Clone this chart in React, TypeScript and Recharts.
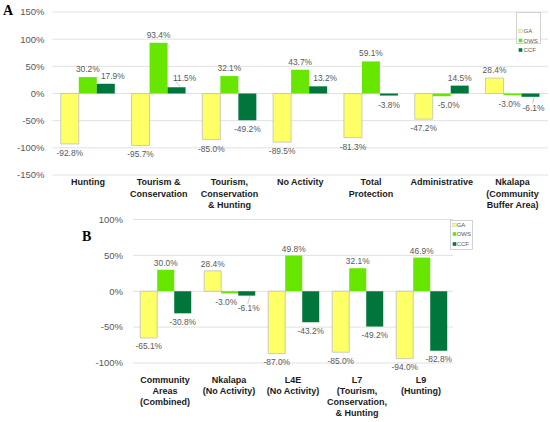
import React from "react";
import { BarChart, Bar, XAxis, YAxis, CartesianGrid, LabelList } from "recharts";

// ---------- Data ----------
const categoriesA = [
  "Hunting",
  "Tourism &\nConservation",
  "Tourism,\nConservation\n& Hunting",
  "No Activity",
  "Total\nProtection",
  "Administrative",
  "Nkalapa\n(Community\nBuffer Area)",
];
const gaA = [-92.8, -95.7, -85.0, -89.5, -81.3, -47.2, 28.4];
const owsA = [30.2, 93.4, 32.1, 43.7, 59.1, -5.0, -3.0];
const ccfA = [17.9, 11.5, -49.2, 13.2, -3.8, 14.5, -6.1];
const ticksA = [-150, -100, -50, 0, 50, 100, 150];

const categoriesB = [
  "Community\nAreas\n(Combined)",
  "Nkalapa\n(No Activity)",
  "L4E\n(No Activity)",
  "L7\n(Tourism,\nConservation,\n& Hunting",
  "L9\n(Hunting)",
];
const gaB = [-65.1, 28.4, -87.0, -85.0, -94.0];
const owsB = [30.0, -3.0, 49.8, 32.1, 46.9];
const ccfB = [-30.8, -6.1, -43.2, -49.2, -82.8];
const ticksB = [-100, -50, 0, 50, 100];

const seriesNames = ["GA", "OWS", "CCF"];
const seriesColors: Record<string, string> = { GA: "#FFFF66", OWS: "#66E600", CCF: "#00763C" };

// label nudges (label layout only, relative to library-computed bar ends)
const nudgesA: Record<string, [number, number]> = {
  "CCF:0": [7, 0],
  "CCF:1": [8, -1],
  "CCF:3": [7, 0],
  "OWS:5": [7, 0],
  "OWS:6": [-3, 0],
  "CCF:6": [3, 2],
};
const leadersA = ["CCF:1", "CCF:6"];
const nudgesB: Record<string, [number, number]> = {
  "OWS:1": [-3.5, 0],
  "CCF:1": [2, 4],
};
const leadersB = ["CCF:1"];

const buildRows = (cats: string[], ga: number[], ows: number[], ccf: number[]) =>
  cats.map((c, i) => ({ cat: c, GA: ga[i], OWS: ows[i], CCF: ccf[i] }));

const dataA = buildRows(categoriesA, gaA, owsA, ccfA);
const dataB = buildRows(categoriesB, gaB, owsB, ccfB);

const FONT = "'Liberation Sans', Arial, sans-serif";

const makeLabel =
  (series: string, nudges: Record<string, [number, number]>, leaders: string[], posOff: number, negOff: number) =>
  (props: any) => {
    const vb = props.viewBox && props.viewBox.width !== undefined ? props.viewBox : props;
    const x = Number(vb.x);
    const y = Number(vb.y);
    const w = Number(vb.width);
    const h = Number(vb.height);
    const value = Number(props.value);
    const index = props.index;
    if (!isFinite(x) || !isFinite(value)) return null;
    const top = Math.min(y, y + h);
    const bottom = Math.max(y, y + h);
    const cx = x + w / 2;
    const key = `${series}:${index}`;
    const [dx, dy] = nudges[key] || [0, 0];
    const pos = value >= 0;
    const lcx = cx + dx;
    const lcy = (pos ? top - posOff : bottom + negOff) + dy;
    const hasLeader = leaders.includes(key);
    return (
      <g>
        {hasLeader &&
          (pos ? (
            <line x1={cx + w * 0.2} y1={top - 0.5} x2={lcx - 9} y2={lcy + 3} stroke="#A6A6A6" strokeWidth={0.6} />
          ) : (
            <line x1={cx + w * 0.2} y1={bottom + 0.5} x2={lcx - 1} y2={lcy - 4.5} stroke="#A6A6A6" strokeWidth={0.6} />
          ))}
        <text x={lcx} y={lcy + 3} textAnchor="middle" fontSize={8.4} fontFamily={FONT} fill="#595959">
          {value.toFixed(1) + "%"}
        </text>
      </g>
    );
  };

const makeTick = (firstOffset: number, lineHeight: number) => (props: any) => {
  const { x, y, payload } = props;
  const lines = String(payload.value).split("\n");
  return (
    <text x={x} y={y + firstOffset} textAnchor="middle" fontSize={9} fontWeight={700} fontFamily={FONT} fill="#1a1a1a">
      {lines.map((l, i) => (
        <tspan key={i} x={x} dy={i === 0 ? 0 : lineHeight}>
          {l}
        </tspan>
      ))}
    </text>
  );
};

const LegendBox = ({
  left,
  top,
  width,
  height,
  rowYs,
  squareX,
  textX,
}: {
  left: number;
  top: number;
  width: number;
  height: number;
  rowYs: number[];
  squareX: number;
  textX: number;
}) => (
  <svg
    style={{ position: "absolute", left, top, overflow: "visible" }}
    width={width}
    height={height}
  >
    <rect x={0.5} y={0.5} width={width - 1} height={height - 1} fill="#ffffff" stroke="#C8C8C8" strokeWidth={0.8} />
    {seriesNames.map((s, i) => (
      <g key={s}>
        <rect x={squareX} y={rowYs[i] - 1.8} width={3.6} height={3.6} fill={seriesColors[s]} stroke={s === "GA" ? "#BFBFBF" : "none"} strokeWidth={0.4} />
        <text x={textX} y={rowYs[i] + 2.1} fontSize={6} fontFamily={FONT} fill="#595959">
          {s}
        </text>
      </g>
    ))}
  </svg>
);

const Panel = ({
  data,
  ticks,
  width,
  height,
  margin,
  yWidth,
  tickMargin,
  xHeight,
  gap,
  nudges,
  leaders,
  posOff,
  negOff,
  tickFirst,
  tickLine,
}: any) => (
  <BarChart width={width} height={height} data={data} margin={margin} barCategoryGap={gap} barGap={0}>
    <CartesianGrid vertical={false} stroke="#D9D9D9" strokeWidth={0.8} />
    <XAxis
      dataKey="cat"
      axisLine={false}
      tickLine={false}
      interval={0}
      height={xHeight}
      tick={makeTick(tickFirst, tickLine)}
    />
    <YAxis
      domain={[ticks[0], ticks[ticks.length - 1]]}
      ticks={ticks}
      width={yWidth}
      axisLine={false}
      tickLine={false}
      tickMargin={tickMargin}
      tickFormatter={(v: number) => `${v}%`}
      tick={{ fontSize: 9.5, fill: "#595959", fontFamily: FONT }}
    />
    {seriesNames.map((s) => (
      <Bar
        key={s}
        dataKey={s}
        fill={seriesColors[s]}
        stroke={s === "GA" ? "#BFBFBF" : "none"}
        strokeWidth={s === "GA" ? 0.8 : 0}
        isAnimationActive={false}
      >
        <LabelList dataKey={s} content={makeLabel(s, nudges, leaders, posOff, negOff)} />
      </Bar>
    ))}
  </BarChart>
);

export default function App() {
  return (
    <div style={{ position: "absolute", left: 0, top: 0, width: 550, height: 422, background: "#ffffff", overflow: "hidden" }}>
      <div style={{ position: "absolute", left: 0, top: 0 }}>
        <Panel
          data={dataA}
          ticks={ticksA}
          width={550}
          height={215}
          margin={{ top: 12, right: 2, left: 0, bottom: 0 }}
          yWidth={52.5}
          tickMargin={2}
          xHeight={40}
          gap="11.7%"
          nudges={nudgesA}
          leaders={leadersA}
          posOff={8}
          negOff={9}
          tickFirst={2}
          tickLine={11.5}
        />
      </div>
      <div style={{ position: "absolute", left: 0, top: 210 }}>
        <Panel
          data={dataB}
          ticks={ticksB}
          width={550}
          height={212}
          margin={{ top: 9.5, right: 97, left: 0, bottom: 0 }}
          yWidth={133}
          tickMargin={4}
          xHeight={59}
          gap="11.3%"
          nudges={nudgesB}
          leaders={leadersB}
          posOff={7}
          negOff={8.5}
          tickFirst={12}
          tickLine={11}
        />
      </div>
      <LegendBox left={516} top={12} width={25} height={32} rowYs={[19, 28.5, 38]} squareX={2.7} textX={7.5} />
      <LegendBox left={450} top={220} width={23} height={30} rowYs={[5, 14, 24]} squareX={2.7} textX={6.7} />
      <div
        style={{
          position: "absolute",
          left: 3,
          top: 3,
          fontFamily: "'Liberation Serif', 'Times New Roman', serif",
          fontWeight: 700,
          fontSize: 14,
          lineHeight: "16px",
          color: "#000",
        }}
      >
        A
      </div>
      <div
        style={{
          position: "absolute",
          left: 82,
          top: 229,
          fontFamily: "'Liberation Serif', 'Times New Roman', serif",
          fontWeight: 700,
          fontSize: 14,
          lineHeight: "16px",
          color: "#000",
        }}
      >
        B
      </div>
    </div>
  );
}
